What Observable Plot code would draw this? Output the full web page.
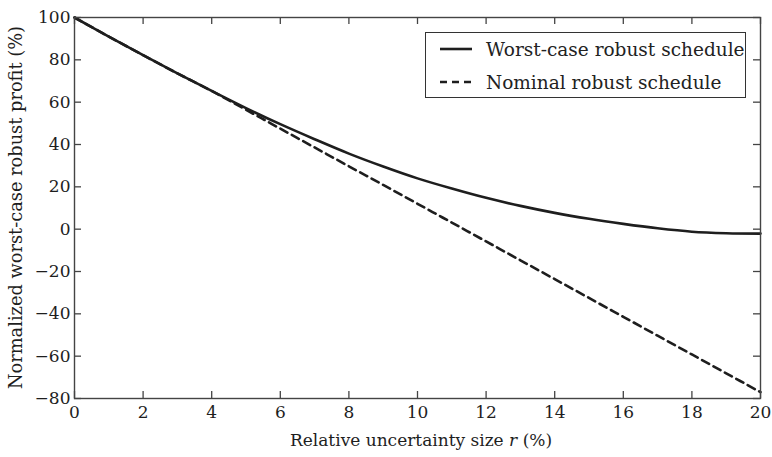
<!DOCTYPE html>
<html><head><meta charset="utf-8">
<script src="https://cdn.jsdelivr.net/npm/d3@7"></script>
<script src="https://cdn.jsdelivr.net/npm/@observablehq/plot@0.6"></script>
<style>
body{margin:0;background:#fff}
#wrap{position:relative;width:772px;height:457px;font-family:"DejaVu Serif",serif;color:#222}
#legend{position:absolute;left:425px;top:32px;width:319px;height:64px;border:1px solid #333;background:#fff}
#legend .row{position:absolute;left:0;height:24px;display:flex;align-items:center;font-size:18.5px;white-space:nowrap}
#legend svg{margin-left:14px;margin-right:14px}
</style>
</head><body><div id="wrap"></div>
<script>
const r = [0,1,2,3,4,5,6,7,8,9,10,11,12,13,14,15,16,17,18,19,20];
const worstCase = [100,91,82.2,73.6,65.3,57.2,49.6,42.5,35.7,29.6,24.0,19.2,14.8,11.0,7.7,4.9,2.5,0.4,-1.2,-1.9,-2.1];
const nominal = [100,91,82.2,73.6,65.3,56.4,47.5,38.6,29.7,20.9,12.0,3.1,-5.8,-14.7,-23.6,-32.5,-41.4,-50.3,-59.2,-68.1,-77.0];
const xTicks = [0,2,4,6,8,10,12,14,16,18,20];
const yTicks = [-80,-60,-40,-20,0,20,40,60,80,100];
const seriesNames = ["Worst-case robust schedule","Nominal robust schedule"];
const xLabel = "Relative uncertainty size ";
const xLabelVar = "r";
const xLabelUnit = " (%)";
const yLabel = "Normalized worst-case robust profit (%)";

const W = 772, H = 457, mL = 74, mR = 12, mT = 17, mB = 59;
const pw = W - mL - mR, ph = H - mT - mB;
const ink = "#1e1e1e", axisInk = "#444";

const rows = [];
r.forEach((v,i)=>{
  rows.push({r:v, y:worstCase[i], s:seriesNames[0]});
  rows.push({r:v, y:nominal[i], s:seriesNames[1]});
});

const chart = Plot.plot({
  width: W, height: H,
  marginLeft: mL, marginRight: mR, marginTop: mT, marginBottom: mB,
  style: {fontFamily: '"DejaVu Serif", serif', fontSize: "17px", color: ink, background: "#fff"},
  x: {domain: [0,20], ticks: xTicks},
  y: {domain: [-80,100], ticks: yTicks},
  marks: [
    Plot.line(rows.filter(d=>d.s===seriesNames[1]), {x:"r", y:"y", stroke: ink, strokeWidth: 2.6, strokeDasharray: "8,5", curve: "catmull-rom"}),
    Plot.line(rows.filter(d=>d.s===seriesNames[0]), {x:"r", y:"y", stroke: ink, strokeWidth: 2.6, curve: "catmull-rom"}),
    Plot.tickX(xTicks, {x: d=>d, insetTop: ph-7, stroke: axisInk, strokeWidth: 1.3}),
    Plot.tickX(xTicks, {x: d=>d, insetBottom: ph-7, stroke: axisInk, strokeWidth: 1.3}),
    Plot.tickY(yTicks, {y: d=>d, insetRight: pw-7, stroke: axisInk, strokeWidth: 1.3}),
    Plot.tickY(yTicks, {y: d=>d, insetLeft: pw-7, stroke: axisInk, strokeWidth: 1.3}),
    Plot.frame({stroke: axisInk, strokeWidth: 1.4}),
    Plot.axisX(xTicks, {tickSize: 0, tickPadding: 7, label: null, fontSize: 17, fill: ink}),
    Plot.axisY(yTicks, {tickSize: 0, tickPadding: 4, label: null, fontSize: 17, fill: ink})
  ]
});

const wrap = document.getElementById("wrap");
wrap.appendChild(chart);

const svg = d3.select(chart);
const xl = svg.append("text")
  .attr("x", mL + pw/2 + 4).attr("y", 446)
  .attr("text-anchor","middle").attr("font-size", 17).attr("fill", ink);
xl.append("tspan").text(xLabel);
xl.append("tspan").attr("font-style","italic").text(xLabelVar);
xl.append("tspan").text(xLabelUnit);
svg.append("text")
  .attr("transform", `translate(22,${mT + ph/2}) rotate(-90)`)
  .attr("text-anchor","middle").attr("font-size", 17.8).attr("fill", ink)
  .text(yLabel);

// legend
const leg = document.createElement("div");
leg.id = "legend";
seriesNames.forEach((name,i)=>{
  const row = document.createElement("div");
  row.className = "row";
  row.style.top = (i===0 ? 4 : 37) + "px";
  row.innerHTML = `<svg width="32" height="6"><line x1="0" x2="32" y1="3" y2="3" stroke="${ink}" stroke-width="2.6" ${i===1?'stroke-dasharray="7,5"':''}/></svg><span>${name}</span>`;
  leg.appendChild(row);
});
wrap.appendChild(leg);
</script>
</body></html>
